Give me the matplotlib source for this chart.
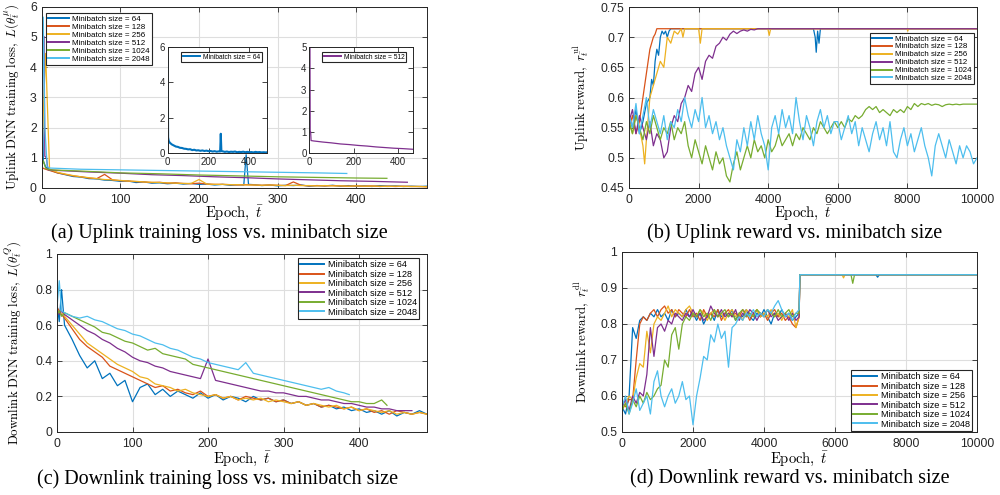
import sys
import matplotlib
matplotlib.use("Agg")
import matplotlib.pyplot as plt
from matplotlib.ticker import FuncFormatter

plt.rcParams['font.family'] = ['Liberation Sans', 'DejaVu Sans']
plt.rcParams['mathtext.fontset'] = 'cm'

# ---------------- colours (MATLAB default order) ----------------
COLORS = ['#0072BD', '#D95319', '#EDB120', '#7E2F8E', '#77AC30', '#4DBEEE']
LABELS = ['Minibatch size = 64', 'Minibatch size = 128', 'Minibatch size = 256',
          'Minibatch size = 512', 'Minibatch size = 1024', 'Minibatch size = 2048']

# ---------------- (a) uplink training loss ----------------
A_X = [0, 2, 5] + list(range(10, 500, 10))
A64_X = [0, 2, 5] + list(range(10, 260, 10)) + [257, 260, 263] + list(range(270, 500, 10))
A64_Y = [5.4, 0.9, 0.7, 0.6, 0.5, 0.44, 0.38, 0.36, 0.31, 0.3,
         0.26, 0.25, 0.22, 0.23, 0.18, 0.2, 0.16, 0.17, 0.14, 0.16,
         0.13, 0.15, 0.12, 0.13, 0.1, 0.12, 0.09, 0.11,
         0.1, 1.1, 0.12,
         0.11, 0.08, 0.1, 0.07, 0.09, 0.08, 0.1, 0.06, 0.08, 0.07,
         0.09, 0.06, 0.08, 0.06, 0.07, 0.05, 0.08, 0.06, 0.07, 0.05,
         0.06, 0.05, 0.06]
A128_Y = [0.7, 0.65, 0.62, 0.58, 0.5, 0.45, 0.4, 0.37, 0.33, 0.31,
          0.45, 0.27, 0.24, 0.23, 0.21, 0.2, 0.18, 0.19, 0.16, 0.17,
          0.15, 0.14, 0.16, 0.13, 0.12, 0.12, 0.11, 0.1, 0.11, 0.1,
          0.09, 0.1, 0.09, 0.08, 0.2, 0.09, 0.07, 0.08, 0.07, 0.08,
          0.07, 0.06, 0.07, 0.06, 0.07, 0.05, 0.06, 0.05, 0.06, 0.05,
          0.05, 0.04]
A256_Y = [1.0, 2.5, 4.45, 0.62, 0.52, 0.46, 0.41, 0.37, 0.34, 0.31,
          0.28, 0.27, 0.25, 0.23, 0.22, 0.2, 0.19, 0.18, 0.17, 0.16,
          0.15, 0.15, 0.28, 0.13, 0.12, 0.12, 0.11, 0.11, 0.1, 0.1,
          0.09, 0.1, 0.09, 0.08, 0.09, 0.08, 0.08, 0.07, 0.08, 0.07,
          0.07, 0.06, 0.07, 0.06, 0.06, 0.06, 0.05, 0.06, 0.05, 0.05,
          0.05, 0.04]
A512_X = [3, 4, 6, 8, 20, 60, 100, 140, 180, 220, 260, 300, 340, 380, 420, 465]
A512_Y = [5.0, 1.05, 1.0, 0.6, 0.58, 0.53, 0.49, 0.44, 0.41, 0.37, 0.34, 0.3, 0.27, 0.24, 0.22, 0.19]
A1024_X = [0, 2, 5, 10, 50, 100, 150, 200, 250, 300, 350, 400, 439]
A1024_Y = [0.7, 0.9, 0.65, 0.6, 0.56, 0.5, 0.47, 0.43, 0.4, 0.37, 0.35, 0.33, 0.32]
A2048_X = [0, 2, 4, 7, 10, 50, 100, 150, 200, 250, 300, 350, 388]
A2048_Y = [0.7, 5.65, 2.0, 0.7, 0.66, 0.62, 0.6, 0.58, 0.56, 0.54, 0.52, 0.5, 0.48]

# ---------------- (b) uplink reward ----------------
B_X = list(range(0, 10001, 100))
B64_X = [0, 100, 200, 300, 400, 500, 600, 650, 700, 750,
         800, 850, 900, 950, 1000, 1050, 1100, 1150, 1200, 5300,
         5350, 5380, 5420, 5460, 5500, 5540, 10000]
B64_Y = [0.57, 0.55, 0.58, 0.54, 0.56, 0.59, 0.6, 0.63, 0.62, 0.66,
         0.68, 0.67, 0.7, 0.71, 0.705, 0.71, 0.7, 0.71, 0.714, 0.714,
         0.7, 0.675, 0.71, 0.69, 0.714, 0.714, 0.714]
B128_X = [0, 100, 200, 300, 400, 450, 500, 550, 600, 650, 700, 750, 800, 10000]
B128_Y = [0.55, 0.57, 0.54, 0.56, 0.6, 0.62, 0.64, 0.66, 0.68, 0.69, 0.7, 0.705, 0.714, 0.714]
B256_X = [0, 100, 200, 300, 400, 450, 500, 600, 700, 800,
          900, 1000, 1100, 1200, 1300, 1400, 1500, 1550, 1600, 1700,
          2000, 2050, 2100, 2150, 2200, 3990, 4030, 4070, 7990, 8010,
          8030, 10000]
B256_Y = [0.56, 0.54, 0.57, 0.55, 0.52, 0.49, 0.53, 0.6, 0.62, 0.64,
          0.66, 0.65, 0.7, 0.69, 0.71, 0.705, 0.714, 0.7, 0.714, 0.714,
          0.714, 0.69, 0.714, 0.714, 0.714, 0.714, 0.703, 0.714, 0.714, 0.71,
          0.714, 0.714]
B512_X = list(range(0, 4001, 100)) + [10000]
B512_Y = [0.56, 0.58, 0.54, 0.57, 0.55, 0.53, 0.56, 0.52, 0.54, 0.53,
          0.5, 0.51, 0.55, 0.57, 0.56, 0.59, 0.6, 0.62, 0.61, 0.64,
          0.65, 0.63, 0.66, 0.67, 0.665, 0.685, 0.69, 0.7, 0.695, 0.705,
          0.71, 0.706, 0.71, 0.712, 0.71, 0.713, 0.712, 0.714, 0.714, 0.714,
          0.714, 0.714]
B1024_Y = [0.56, 0.54, 0.57, 0.55, 0.53, 0.56, 0.54, 0.57, 0.55, 0.53,
           0.55, 0.54, 0.56, 0.53, 0.55, 0.54, 0.56, 0.52, 0.5, 0.53,
           0.51, 0.49, 0.52, 0.5, 0.48, 0.51, 0.49, 0.5, 0.47, 0.46,
           0.49, 0.51, 0.48, 0.5, 0.52, 0.5, 0.53, 0.51, 0.52, 0.5,
           0.53, 0.51, 0.52, 0.54, 0.52, 0.53, 0.54, 0.52, 0.54, 0.53,
           0.55, 0.54, 0.53, 0.55, 0.54, 0.56, 0.55, 0.54, 0.55, 0.56,
           0.55, 0.56, 0.55, 0.565, 0.56, 0.57, 0.565, 0.57, 0.58, 0.585,
           0.58, 0.585, 0.575, 0.58, 0.575, 0.57, 0.58, 0.575, 0.58, 0.575,
           0.585, 0.58, 0.59, 0.585, 0.59, 0.588, 0.59, 0.587, 0.589, 0.588,
           0.585, 0.588, 0.589, 0.588, 0.589, 0.588, 0.589, 0.589, 0.589, 0.589,
           0.589]
B2048_Y = [0.57, 0.55, 0.59, 0.54, 0.57, 0.6, 0.55, 0.58, 0.56, 0.54,
           0.57, 0.53, 0.56, 0.55, 0.58, 0.56, 0.6, 0.57, 0.55, 0.58,
           0.56, 0.6, 0.55, 0.57, 0.54, 0.56, 0.53, 0.55, 0.52, 0.5,
           0.48, 0.53, 0.51, 0.55, 0.52, 0.56, 0.53, 0.57, 0.54, 0.52,
           0.48, 0.55, 0.57, 0.54, 0.58, 0.55, 0.57, 0.54, 0.6, 0.56,
           0.53, 0.57, 0.55, 0.52, 0.56, 0.58, 0.55, 0.57, 0.54, 0.56,
           0.56, 0.53, 0.55, 0.57, 0.54, 0.56, 0.52, 0.55, 0.53, 0.51,
           0.54, 0.56, 0.53, 0.55, 0.52, 0.56, 0.51, 0.5, 0.53, 0.55,
           0.52, 0.54, 0.51, 0.53, 0.55, 0.52, 0.5, 0.47, 0.52, 0.54,
           0.52, 0.5, 0.53, 0.51, 0.49, 0.52, 0.5, 0.52, 0.51, 0.49,
           0.5]

# ---------------- (c) downlink training loss ----------------
C_X = [0, 3, 6] + list(range(10, 500, 10))
C512_X = [0, 3, 6] + list(range(10, 480, 10))
C1024_X = [0, 3, 6] + list(range(10, 440, 10)) + [437]
C2048_X = [0, 3, 6] + list(range(10, 390, 10)) + [387]
C64_Y = [0.72, 0.62, 0.8, 0.6, 0.52, 0.43, 0.36, 0.4, 0.3, 0.33,
         0.26, 0.29, 0.17, 0.25, 0.27, 0.21, 0.24, 0.2, 0.23, 0.21,
         0.19, 0.22, 0.19, 0.21, 0.18, 0.2, 0.19, 0.17, 0.2, 0.18,
         0.19, 0.17, 0.18, 0.16, 0.17, 0.15, 0.16, 0.14, 0.15, 0.13,
         0.14, 0.12, 0.13, 0.11, 0.12, 0.1, 0.12, 0.09, 0.11, 0.1,
         0.12, 0.1]
C128_Y = [0.7, 0.68, 0.66, 0.64, 0.58, 0.52, 0.48, 0.45, 0.42, 0.37,
          0.35, 0.33, 0.31, 0.29, 0.27, 0.25, 0.26, 0.23, 0.24, 0.22,
          0.21, 0.23, 0.2, 0.21, 0.19, 0.2, 0.18, 0.2, 0.19, 0.18,
          0.19, 0.17, 0.18, 0.16, 0.17, 0.15, 0.16, 0.14, 0.15, 0.14,
          0.13, 0.14, 0.12, 0.13, 0.11, 0.12, 0.1, 0.12, 0.11, 0.1,
          0.11, 0.1]
C256_Y = [0.69, 0.67, 0.68, 0.65, 0.6, 0.55, 0.5, 0.47, 0.44, 0.41,
          0.38, 0.36, 0.34, 0.31, 0.3, 0.27, 0.26, 0.25, 0.23, 0.24,
          0.22, 0.21, 0.2, 0.21, 0.19, 0.2, 0.18, 0.19, 0.18, 0.19,
          0.17, 0.18, 0.17, 0.16, 0.17, 0.15, 0.16, 0.15, 0.14, 0.15,
          0.13, 0.14, 0.12, 0.13, 0.12, 0.11, 0.12, 0.1, 0.11, 0.1,
          0.11, 0.1]
C512_Y = [0.69, 0.66, 0.68, 0.66, 0.63, 0.6, 0.57, 0.55, 0.52, 0.5,
          0.47, 0.45, 0.42, 0.4, 0.39, 0.37, 0.36, 0.34, 0.33, 0.32,
          0.31, 0.3, 0.41, 0.29, 0.28, 0.27, 0.26, 0.25, 0.24, 0.23,
          0.23, 0.22, 0.22, 0.21, 0.2, 0.2, 0.19, 0.18, 0.18, 0.17,
          0.16, 0.16, 0.15, 0.14, 0.14, 0.13, 0.13, 0.12, 0.12, 0.12]
C1024_Y = [0.66, 0.68, 0.65, 0.67, 0.65, 0.63, 0.61, 0.59, 0.56, 0.55,
           0.53, 0.51, 0.5, 0.48, 0.46, 0.47, 0.44, 0.43, 0.42, 0.41,
           0.38, 0.37, 0.36, 0.35, 0.34, 0.33, 0.32, 0.31, 0.3, 0.29,
           0.28, 0.27, 0.26, 0.25, 0.24, 0.23, 0.22, 0.21, 0.2, 0.19,
           0.18, 0.17, 0.17, 0.16, 0.16, 0.18,
           0.15]
C2048_Y = [0.7, 0.85, 0.68, 0.67, 0.65, 0.64, 0.65, 0.63, 0.62, 0.6,
           0.58, 0.57, 0.55, 0.54, 0.52, 0.5, 0.49, 0.47, 0.46, 0.44,
           0.42, 0.41, 0.39, 0.38, 0.37, 0.36, 0.35, 0.39, 0.33, 0.32,
           0.31, 0.3, 0.29, 0.28, 0.27, 0.26, 0.25, 0.24, 0.25, 0.23,
           0.22, 0.21]

# ---------------- (d) downlink reward ----------------
D_X = list(range(0, 5000, 100))
D64_X = D_X + [4990, 5010, 7150, 7200, 7250, 10000]
D64_Y = [0.57, 0.55, 0.6, 0.79, 0.76, 0.81, 0.82, 0.81, 0.83, 0.82,
         0.84, 0.82, 0.83, 0.81, 0.84, 0.82, 0.83, 0.82, 0.84, 0.82,
         0.83, 0.81, 0.83, 0.8, 0.82, 0.83, 0.81, 0.84, 0.82, 0.83,
         0.82, 0.84, 0.81, 0.83, 0.82, 0.84, 0.82, 0.81, 0.83, 0.82,
         0.84, 0.82, 0.8, 0.83, 0.82, 0.84, 0.82, 0.83, 0.81, 0.82,
         0.83, 0.937, 0.937, 0.93, 0.937, 0.937]
D128_X = D_X + [4990, 5010, 10000]
D128_Y = [0.58, 0.57, 0.59, 0.59, 0.7, 0.8, 0.82, 0.81, 0.83, 0.84,
          0.82, 0.84, 0.85, 0.83, 0.84, 0.82, 0.84, 0.83, 0.82, 0.84,
          0.82, 0.83, 0.81, 0.84, 0.82, 0.83, 0.82, 0.84, 0.81, 0.83,
          0.84, 0.82, 0.83, 0.82, 0.84, 0.83, 0.81, 0.83, 0.84, 0.82,
          0.83, 0.81, 0.83, 0.84, 0.82, 0.83, 0.81, 0.82, 0.8, 0.79,
          0.82, 0.937, 0.937]
D256_X = D_X + [4990, 5010, 6200, 6240, 6280, 10000]
D256_Y = [0.56, 0.58, 0.6, 0.59, 0.65, 0.69, 0.68, 0.78, 0.72, 0.8,
          0.82, 0.81, 0.83, 0.85, 0.82, 0.84, 0.83, 0.82, 0.84, 0.85,
          0.83, 0.82, 0.84, 0.83, 0.81, 0.83, 0.84, 0.82, 0.83, 0.81,
          0.83, 0.84, 0.82, 0.83, 0.81, 0.84, 0.83, 0.82, 0.84, 0.82,
          0.83, 0.82, 0.84, 0.82, 0.83, 0.81, 0.83, 0.82, 0.84, 0.79,
          0.82, 0.937, 0.937, 0.928, 0.937, 0.937]
D512_X = D_X + [4990, 5010, 10000]
D512_Y = [0.57, 0.59, 0.56, 0.6, 0.58, 0.61, 0.6, 0.66, 0.79, 0.71,
          0.79, 0.8, 0.78, 0.81, 0.8, 0.83, 0.82, 0.81, 0.83, 0.82,
          0.84, 0.82, 0.83, 0.81, 0.82, 0.85, 0.83, 0.82, 0.84, 0.82,
          0.83, 0.82, 0.84, 0.81, 0.83, 0.82, 0.84, 0.83, 0.81, 0.83,
          0.82, 0.84, 0.82, 0.83, 0.81, 0.82, 0.83, 0.81, 0.83, 0.81,
          0.82, 0.937, 0.937]
D1024_X = D_X + [4990, 5010, 6450, 6500, 6550, 10000]
D1024_Y = [0.56, 0.58, 0.55, 0.59, 0.57, 0.6, 0.58, 0.61, 0.59, 0.6,
           0.62, 0.63, 0.7, 0.68, 0.77, 0.79, 0.73, 0.8, 0.82, 0.81,
           0.83, 0.82, 0.84, 0.82, 0.83, 0.81, 0.84, 0.82, 0.83, 0.84,
           0.82, 0.83, 0.81, 0.83, 0.84, 0.82, 0.83, 0.82, 0.84, 0.83,
           0.82, 0.84, 0.83, 0.82, 0.84, 0.82, 0.83, 0.84, 0.82, 0.83,
           0.83, 0.937, 0.937, 0.913, 0.937, 0.937]
D2048_X = D_X + [4990, 5010, 10000]
D2048_Y = [0.57, 0.6, 0.55, 0.58, 0.62, 0.56, 0.58, 0.6, 0.55, 0.64,
           0.67, 0.6, 0.57, 0.6, 0.62, 0.58, 0.6, 0.64, 0.59, 0.6,
           0.52, 0.6, 0.65, 0.71, 0.7, 0.77, 0.75, 0.8, 0.76, 0.78,
           0.68, 0.79, 0.8, 0.82, 0.81, 0.83, 0.82, 0.84, 0.82, 0.83,
           0.82, 0.84, 0.83, 0.85, 0.865, 0.84, 0.82, 0.83, 0.81, 0.83,
           0.84, 0.937, 0.937]

# ---------------- helpers ----------------
W, H = 1000, 495
fig = plt.figure(figsize=(W / 100, H / 100), dpi=100)
AX_COL = '#262626'
TICK_FS = 8.8


def px_axes(l, t, r, b, **kw):
    return fig.add_axes([l / W, 1 - b / H, (r - l) / W, (b - t) / H], **kw)


def draw(ax, x, y, color, lw=0.9, label=None):
    if len(x) != len(y):
        print('length mismatch', label, len(x), len(y), file=sys.stderr)
    n = min(len(x), len(y))
    ax.plot(x[:n], y[:n], color=color, lw=lw, label=label)


def style(ax, xlim, ylim, xticks, yticks, fs=TICK_FS, grid=True, pad=3.5):
    ax.set_xlim(*xlim)
    ax.set_ylim(*ylim)
    ax.set_xticks(xticks)
    ax.set_yticks(yticks)
    fmt = FuncFormatter(lambda v, p: '%g' % v)
    ax.xaxis.set_major_formatter(fmt)
    ax.yaxis.set_major_formatter(fmt)
    ax.tick_params(direction='in', top=True, right=True, length=3.5, width=0.6,
                   labelsize=fs, colors=AX_COL, pad=pad)
    ax.tick_params(axis='x', pad=pad + 1)
    if grid:
        ax.grid(True, color='#dedede', lw=0.8)
    ax.set_axisbelow(True)
    for s in ax.spines.values():
        s.set_color(AX_COL)
        s.set_linewidth(0.7)


def legend(ax, loc, anchor, fs, **kw):
    leg = ax.legend(loc=loc, bbox_to_anchor=(anchor[0] / W, 1 - anchor[1] / H),
                    bbox_transform=fig.transFigure, fontsize=fs, frameon=True,
                    fancybox=False, edgecolor=AX_COL, framealpha=1,
                    borderpad=0.25, labelspacing=0.05, handlelength=2.6,
                    handletextpad=0.4, borderaxespad=0, **kw)
    leg.get_frame().set_linewidth(0.8)
    for ln in leg.get_lines():
        ln.set_linewidth(1.4)
    return leg


XLAB = r'$\mathrm{Epoch},\ \bar{t}$'
XLAB_FS = 10.5
YLAB_FS = 9.3
SERIF = ['Liberation Serif', 'DejaVu Serif']

# ---------------- panel (a) ----------------
axa = px_axes(41.7, 6.5, 427, 188)
series_a = [(A64_X, A64_Y), (A_X, A128_Y), (A_X, A256_Y),
            (A512_X, A512_Y), (A1024_X, A1024_Y), (A2048_X, A2048_Y)]
for (x, y), c, lab in zip(series_a, COLORS, LABELS):
    draw(axa, x, y, c, label=lab)
style(axa, (0, 490), (0, 6), [0, 100, 200, 300, 400], [0, 1, 2, 3, 4, 5, 6])
axa.set_xlabel(XLAB, fontsize=XLAB_FS)
axa.xaxis.set_label_coords(0.5, -0.085)
axa.set_ylabel(r'$\mathrm{Uplink\ DNN\ training\ loss},\ L(\theta_{\bar{t}}^{\mu})$', fontsize=YLAB_FS)
axa.yaxis.set_label_coords(-0.05, 0.5)
legend(axa, 'upper left', (46, 13), 5.8)

# inset 1 (minibatch 64)
ins1 = px_axes(167.7, 46.7, 266.7, 153.3)
ins1.set_facecolor('white')
draw(ins1, A64_X, A64_Y, COLORS[0], lw=1.5, label=LABELS[0])
style(ins1, (0, 485), (0, 6), [0, 200, 400], [0, 2, 4, 6], fs=7, grid=False, pad=2)
legend(ins1, 'upper right', (262, 52), 4.8)

# inset 2 (minibatch 512)
ins2 = px_axes(309.3, 47, 412.7, 153.3)
ins2.set_facecolor('white')
draw(ins2, A512_X, A512_Y, COLORS[3], lw=0.9, label=LABELS[3])
style(ins2, (0, 465), (0, 5), [0, 200, 400], [0, 1, 2, 3, 4, 5], fs=7, grid=False, pad=2)
legend(ins2, 'upper right', (406, 52), 4.8)

# ---------------- panel (b) ----------------
axb = px_axes(629, 7, 977, 188)
series_b = [(B64_X, B64_Y), (B128_X, B128_Y), (B256_X, B256_Y),
            (B512_X, B512_Y), (B_X, B1024_Y), (B_X, B2048_Y)]
for (x, y), c, lab in zip(series_b, COLORS, LABELS):
    draw(axb, x, y, c, label=lab)
style(axb, (0, 10000), (0.45, 0.75), [0, 2000, 4000, 6000, 8000, 10000],
      [0.45, 0.5, 0.55, 0.6, 0.65, 0.7, 0.75])
axb.set_xlabel(XLAB, fontsize=XLAB_FS)
axb.xaxis.set_label_coords(0.5, -0.085)
axb.set_ylabel(r'$\mathrm{Uplink\ reward},\ r_{\bar{t}}^{\mathrm{ul}}$', fontsize=YLAB_FS)
axb.yaxis.set_label_coords(-0.109, 0.5)
legend(axb, 'upper right', (974, 33), 5.7)

# ---------------- panel (c) ----------------
axc = px_axes(57, 254, 427, 432)
series_c = [(C_X, C64_Y), (C_X, C128_Y), (C_X, C256_Y),
            (C512_X, C512_Y), (C1024_X, C1024_Y), (C2048_X, C2048_Y)]
for (x, y), c, lab in zip(series_c, COLORS, LABELS):
    draw(axc, x, y, c, label=lab)
style(axc, (0, 490), (0, 1), [0, 100, 200, 300, 400], [0, 0.2, 0.4, 0.6, 0.8, 1])
axc.set_xlabel(XLAB, fontsize=XLAB_FS)
axc.xaxis.set_label_coords(0.5, -0.1)
axc.set_ylabel(r'$\mathrm{Downlink\ DNN\ training\ loss},\ L(\theta_{\bar{t}}^{Q})$', fontsize=YLAB_FS)
axc.yaxis.set_label_coords(-0.089, 0.5)
legend(axc, 'upper right', (419, 258), 6.6)

# ---------------- panel (d) ----------------
axd = px_axes(622, 252, 977, 432)
series_d = [(D64_X, D64_Y), (D128_X, D128_Y), (D256_X, D256_Y),
            (D512_X, D512_Y), (D1024_X, D1024_Y), (D2048_X, D2048_Y)]
for (x, y), c, lab in zip(series_d, COLORS, LABELS):
    draw(axd, x, y, c, label=lab)
style(axd, (0, 10000), (0.5, 1), [0, 2000, 4000, 6000, 8000, 10000],
      [0.5, 0.6, 0.7, 0.8, 0.9, 1])
axd.set_xlabel(XLAB, fontsize=XLAB_FS)
axd.xaxis.set_label_coords(0.5, -0.1)
axd.set_ylabel(r'$\mathrm{Downlink\ reward},\ r_{\bar{t}}^{\mathrm{dl}}$', fontsize=YLAB_FS)
axd.yaxis.set_label_coords(-0.085, 0.5)
legend(axd, 'upper right', (972, 370), 6.6)

# ---------------- captions ----------------
CAP_FS = 14.5
fig.text(219 / W, 1 - 233 / H, '(a) Uplink training loss vs. minibatch size',
         ha='center', va='center', fontsize=CAP_FS, family=SERIF)
fig.text(795 / W, 1 - 233 / H, '(b) Uplink reward vs. minibatch size',
         ha='center', va='center', fontsize=CAP_FS, family=SERIF)
fig.text(218 / W, 1 - 479 / H, '(c) Downlink training loss vs. minibatch size',
         ha='center', va='center', fontsize=CAP_FS, family=SERIF)
fig.text(790 / W, 1 - 479 / H, '(d) Downlink reward vs. minibatch size',
         ha='center', va='center', fontsize=CAP_FS, family=SERIF)

fig.savefig('out.png', dpi=100)
